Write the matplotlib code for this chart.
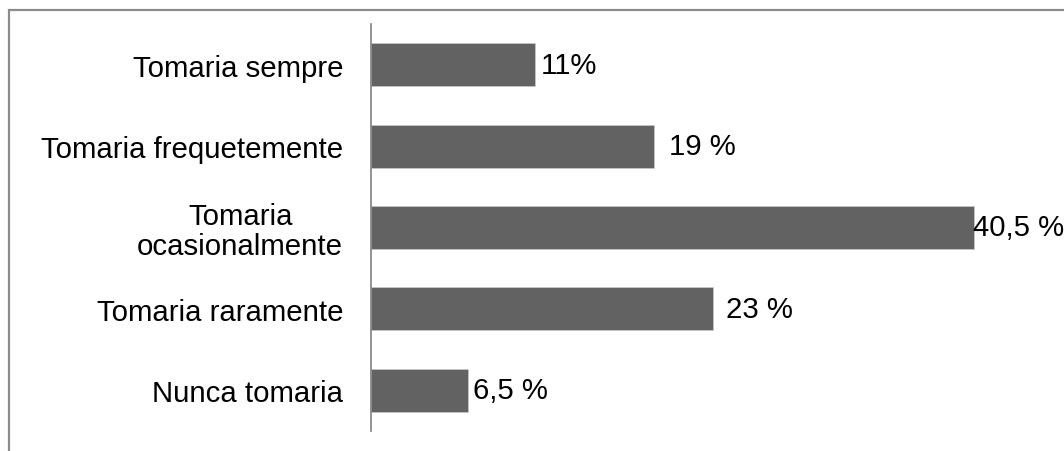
import matplotlib
matplotlib.use("Agg")
import matplotlib.pyplot as plt
from matplotlib.patches import Rectangle

plt.rcParams['font.family'] = ['Liberation Sans', 'DejaVu Sans']

categories = ["Tomaria sempre", "Tomaria frequetemente", "Tomaria\nocasionalmente",
              "Tomaria raramente", "Nunca tomaria"]
values = [11, 19, 40.5, 23, 6.5]
labels = ["11%", "19 %", "40,5 %", "23 %", "6,5 %"]

FS = 21.2

fig = plt.figure(figsize=(10.64, 4.52), dpi=100)

# outer frame (extends past the right and bottom edges)
frame = Rectangle((8.5 / 1064, -0.05), 1.1, (452 - 10.5) / 452 + 0.05,
                  transform=fig.transFigure, fill=False, edgecolor='#8c8c8c',
                  linewidth=1.6, zorder=0)
fig.patches.append(frame)

ax = fig.add_axes([371 / 1064, 20 / 452, 670 / 1064, 407 / 452])
y = list(range(len(categories)))
ax.barh(y, values, height=0.53, color='#626262', edgecolor='#d0d0d0', linewidth=0.4)
ax.set_ylim(len(categories) - 0.5, -0.5)
ax.set_xlim(0, 45)

pads = [4, 11, -1, 9, 4]
for yi, v, lab, p in zip(y, values, labels, pads):
    ax.annotate(lab, (v, yi), xytext=(p, 0), textcoords='offset points',
                ha='left', va='center', fontsize=FS, color='black')

ax.set_yticks(y)
ax.set_yticklabels(categories, fontsize=FS, multialignment='center', linespacing=1.05)
ax.tick_params(axis='y', length=0, pad=20)
ax.set_xticks([])
for s in ['top', 'right', 'bottom']:
    ax.spines[s].set_visible(False)
ax.spines['left'].set_color('#808080')
ax.spines['left'].set_linewidth(1.2)
ax.patch.set_alpha(0)

fig.savefig("out.png", dpi=100)
